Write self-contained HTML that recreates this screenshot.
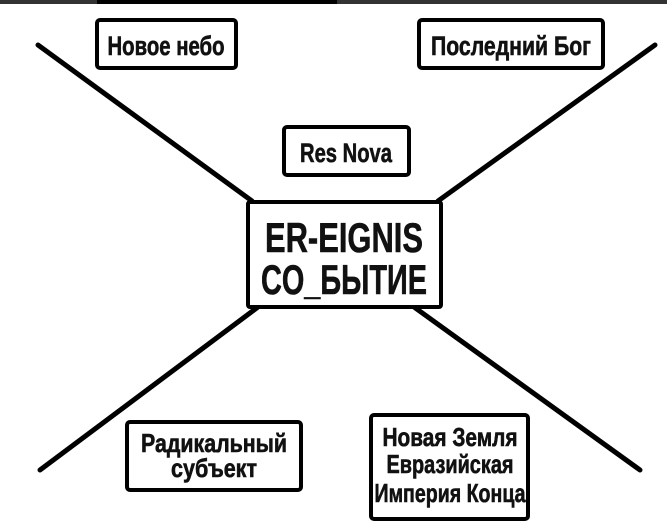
<!DOCTYPE html>
<html><head><meta charset="utf-8"><style>
html,body{margin:0;padding:0;background:#fff;}
svg{display:block}
text{font-family:"Liberation Sans Narrow","Liberation Sans",sans-serif;font-weight:bold;fill:#111;stroke:#111;stroke-width:0.6;text-anchor:middle}
</style></head><body>
<svg width="667" height="527" viewBox="0 0 667 527">
<rect x="0" y="0" width="667" height="4" fill="#333"/>
<rect x="97" y="0" width="240" height="4" fill="#000"/>
<g stroke="#000" stroke-width="5" stroke-linecap="round">
<line x1="38" y1="45" x2="252" y2="201"/>
<line x1="655" y1="45" x2="438" y2="201"/>
<line x1="40" y1="470" x2="258" y2="307"/>
<line x1="640" y1="470" x2="414" y2="307"/>
</g>
<g fill="#fff" stroke="#000" stroke-width="4">
<rect x="97" y="20" width="139" height="48" rx="3"/>
<rect x="419" y="20" width="184" height="48" rx="3"/>
<rect x="284" y="127" width="125" height="48" rx="3"/>
<rect x="248" y="202" width="193" height="105" rx="2"/>
<rect x="127" y="422" width="174" height="68" rx="3"/>
<rect x="371" y="415" width="157" height="104" rx="3"/>
</g>
<text x="166" y="55" font-size="27" textLength="117" lengthAdjust="spacingAndGlyphs">Новое небо</text>
<text x="511" y="55" font-size="27" textLength="160" lengthAdjust="spacingAndGlyphs">Последний Бог</text>
<text x="346" y="162" font-size="27" textLength="92" lengthAdjust="spacingAndGlyphs">Res Nova</text>
<text x="344" y="252" font-size="42" textLength="158" lengthAdjust="spacingAndGlyphs">ER-EIGNIS</text>
<text x="344" y="294" font-size="42" textLength="166" lengthAdjust="spacingAndGlyphs">CO_БЫТИЕ</text>
<text x="214" y="452" font-size="26" textLength="146" lengthAdjust="spacingAndGlyphs">Радикальный</text>
<text x="214" y="477" font-size="26" textLength="86" lengthAdjust="spacingAndGlyphs">субъект</text>
<text x="450" y="446" font-size="26" textLength="135" lengthAdjust="spacingAndGlyphs">Новая Земля</text>
<text x="450" y="473" font-size="26" textLength="127" lengthAdjust="spacingAndGlyphs">Евразийская</text>
<text x="450" y="502" font-size="26" textLength="151" lengthAdjust="spacingAndGlyphs">Империя Конца</text>
</svg>
</body></html>
